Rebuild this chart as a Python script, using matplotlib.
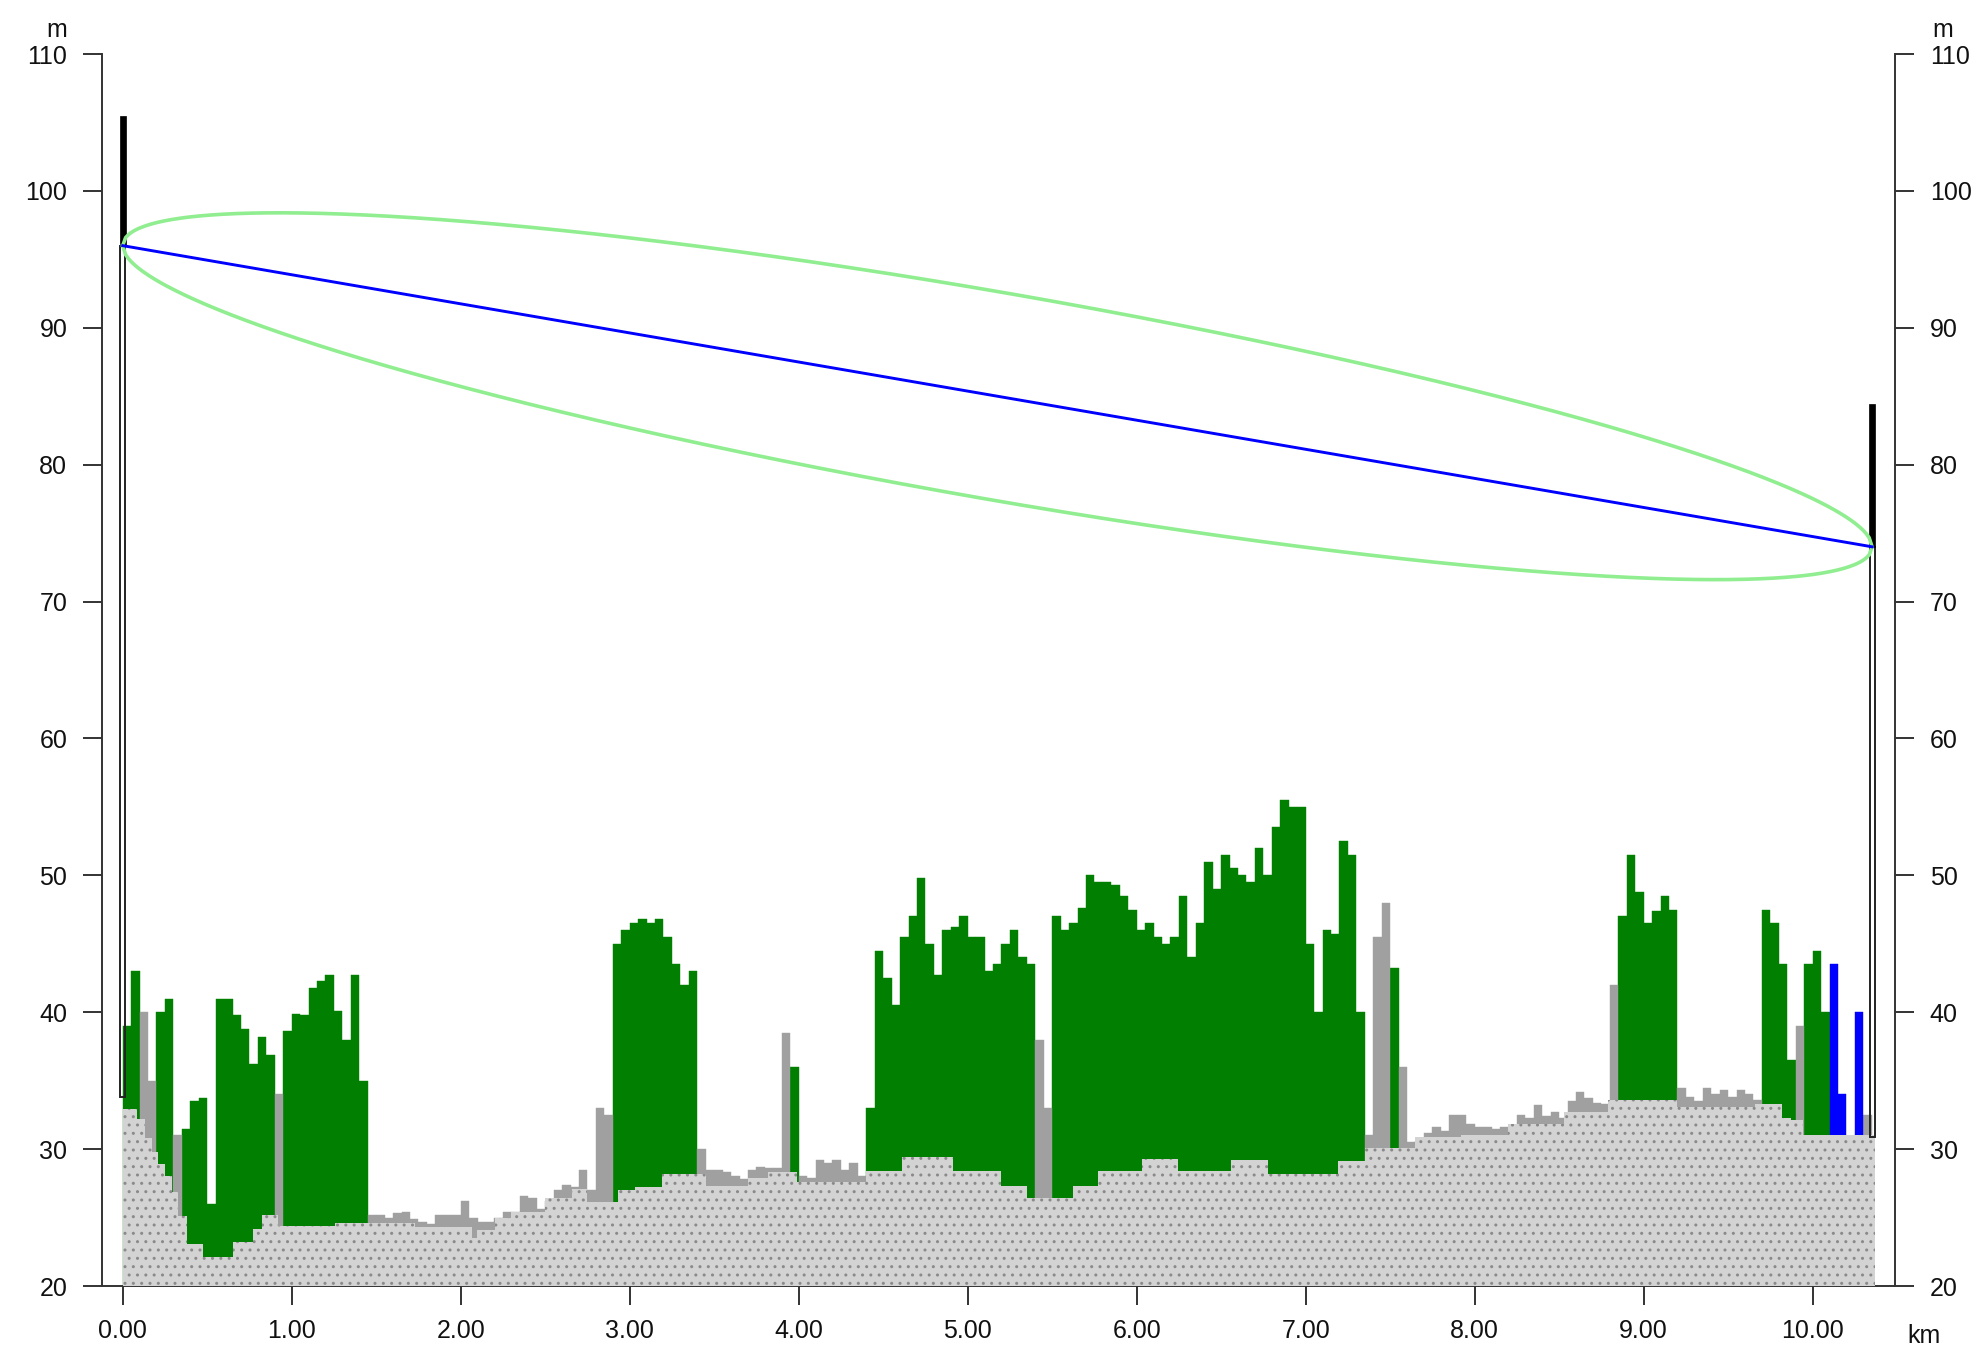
import numpy as np
import matplotlib
matplotlib.use("Agg")
import matplotlib.pyplot as plt
from matplotlib.patches import Rectangle

plt.rcParams["font.family"] = ["Liberation Sans", "DejaVu Sans"]

# terrain: start of each step (km) and its height (m)
ground_km = [0.000, 0.083, 0.132, 0.171, 0.211, 0.250, 0.290, 0.329, 0.378, 0.477,
             0.655, 0.773, 0.822, 0.921, 1.256, 1.730, 2.065, 2.095, 2.203, 2.300,
             2.500, 2.657, 2.745, 2.930, 3.030, 3.190, 3.450, 3.700, 3.820, 3.990,
             4.400, 4.610, 4.915, 5.200, 5.350, 5.625, 5.770, 6.030, 6.245, 6.560,
             6.780, 7.190, 7.350, 7.650, 7.920, 8.200, 8.530, 8.790, 9.195, 9.660,
             9.820, 9.875, 9.945]
ground_m = [32.9, 32.2, 30.8, 29.8, 28.9, 28.0, 26.9, 25.1, 23.1, 22.1,
            23.2, 24.2, 25.2, 24.4, 24.6, 24.3, 23.5, 24.1, 25.0, 25.4,
            26.4, 27.1, 26.1, 27.0, 27.2, 28.2, 27.3, 27.9, 28.3, 27.6,
            28.4, 29.4, 28.4, 27.3, 26.4, 27.3, 28.4, 29.3, 28.4, 29.2,
            28.2, 29.1, 30.1, 30.9, 31.0, 31.8, 32.7, 33.6, 33.1, 33.3,
            32.3, 32.1, 31.0]
ground_end_km = 10.37

# clutter tops (m) every 0.05 km from 0.00 to 10.35
clutter_step = 0.05
clutter_top = [
    39, 43, 40, 35, 40, 41, 31, 31.5, 33.5, 33.7,
    26, 41, 41, 39.8, 38.8, 36.2, 38.2, 36.9, 34, 38.6,
    39.9, 39.8, 41.8, 42.3, 42.7, 40.1, 38, 42.7, 35, 25.2,
    25.2, 25.0, 25.3, 25.4, 24.9, 24.7, 24.5, 25.2, 25.2, 25.2,
    26.2, 25.0, 24.7, 24.7, 25.0, 25.4, 25.4, 26.6, 26.4, 25.6,
    26.2, 27.0, 27.4, 27.2, 28.5, 27.0, 33, 32.5, 45, 46,
    46.5, 46.8, 46.5, 46.8, 45.5, 43.5, 42, 43, 30, 28.5,
    28.5, 28.3, 28.0, 27.8, 28.5, 28.7, 28.6, 28.6, 38.5, 36,
    28.0, 27.9, 29.2, 29.0, 29.2, 28.5, 29.0, 28.0, 33, 44.5,
    42.5, 40.5, 45.5, 47, 49.8, 45, 42.7, 46, 46.2, 47,
    45.5, 45.5, 43, 43.5, 45, 46, 44, 43.5, 38, 33,
    47, 46, 46.5, 47.6, 50, 49.5, 49.5, 49.3, 48.5, 47.5,
    46, 46.5, 45.5, 45, 45.5, 48.5, 44, 46.5, 51, 49,
    51.5, 50.5, 50, 49.5, 52, 50, 53.5, 55.5, 55, 55,
    45, 40, 46, 45.7, 52.5, 51.5, 40, 31, 45.5, 48,
    43.2, 36, 30.5, 30.6, 31.2, 31.6, 31.3, 32.5, 32.5, 31.8,
    31.6, 31.6, 31.5, 31.6, 31.5, 32.5, 32.3, 33.2, 32.4, 32.7,
    32.3, 33.5, 34.2, 33.7, 33.4, 33.3, 42, 47, 51.5, 48.8,
    46.5, 47.4, 48.5, 47.5, 34.5, 33.8, 33.5, 34.5, 34.0, 34.3,
    33.8, 34.3, 34.0, 33.6, 47.5, 46.5, 43.5, 36.5, 39, 43.5,
    44.5, 40, 43.5, 34, 0, 40, 32.5, 0,
]
# F = forest, G = other obstacles, B = blue class, - = none
clutter_cls = ("FFGGFFGFFF" "FFFFFFFFGF" "FFFFFFFFFG" "GGGGGGGGGG" "GGGGGGGGGG"
               "GGGGGGGGFF" "FFFFFFFFGG" "GGGGGGGGGF" "GGGGGGGGFF" "FFFFFFFFFF"
               "FFFFFFFFGG" "FFFFFFFFFF" "FFFFFFFFFF" "FFFFFFFFFF" "FFFFFFFGGG"
               "FGGGGGGGGG" "GGGGGGGGGG" "GGGGGGGFFF" "FFFFGGGGGG" "GGGGFFFFGF"
               "FFBB-BG-")
cls_colors = {"F": "#007f00", "G": "#a0a0a0", "B": "#0000ff"}

# sites: position (km), mast foot, antenna bottom, antenna top (m)
site_km = [0.0, 10.352]
mast_foot = [33.8, 30.9]
ant_low = [96.0, 74.0]
ant_high = [105.5, 84.4]
fresnel_max = 7.65  # m at mid path

fig = plt.figure(figsize=(19.82, 13.5), dpi=100)
ax = fig.add_axes([102 / 1982, 1 - 1286 / 1350, (1895 - 102) / 1982, (1286 - 54) / 1350])

km = np.arange(len(clutter_top)) * clutter_step
top = np.array(clutter_top, dtype=float)
cls = np.array(list(clutter_cls))
for code, col in cls_colors.items():
    m = cls == code
    ax.bar(km[m], top[m] - 20, bottom=20, width=clutter_step, align="edge",
           color=col, edgecolor=col, linewidth=0.3, zorder=2)

gx = ground_km + [ground_end_km]
gy = ground_m + [ground_m[-1]]
ax.fill_between(gx, gy, 20, step="post", facecolor="#d3d3d3", edgecolor="#8a8a8a",
                hatch="..", linewidth=0, zorder=3)

# masts and antennas
for x, foot, lo, hi in zip(site_km, mast_foot, ant_low, ant_high):
    ax.add_patch(Rectangle((x - 0.015, foot), 0.03, lo - foot, fill=False,
                           edgecolor="#222222", linewidth=1.4, zorder=4))
    ax.add_patch(Rectangle((x - 0.017, lo), 0.034, hi - lo, facecolor="black",
                           edgecolor="black", linewidth=0.5, zorder=4))

# line of sight and fresnel zone
t = np.linspace(0, 1, 600)
fx = site_km[0] + t * (site_km[1] - site_km[0])
los = ant_low[0] + t * (ant_low[1] - ant_low[0])
r = 2 * fresnel_max * np.sqrt(t * (1 - t))
ax.plot(np.concatenate([fx, fx[::-1]]), np.concatenate([los + r, (los - r)[::-1]]),
        color="#90ee90", linewidth=2.6, zorder=5)
ax.plot([site_km[0], site_km[1]], [ant_low[0], ant_low[1]], color="#0000ff",
        linewidth=2.1, zorder=6)

ax.set_xlim(-0.1225, 10.4875)
ax.set_ylim(20, 110)
ax.set_xticks(np.arange(0, 11))
ax.set_xticklabels([f"{v:.2f}" for v in range(0, 11)])
ax.set_yticks(np.arange(20, 111, 10))
ax.tick_params(axis="y", left=True, right=True, labelleft=True, labelright=True,
               length=14, width=1.4, pad=11, labelsize=18, color="#333333",
               labelcolor="#111111")
ax.tick_params(axis="x", length=14, width=1.4, pad=10, labelsize=18,
               color="#333333", labelcolor="#111111")
ax.spines["top"].set_visible(False)
for s in ("left", "right", "bottom"):
    ax.spines[s].set_linewidth(1.4)
    ax.spines[s].set_color("#333333")

fig.text(67 / 1982, 1 - 37 / 1350, "m", ha="right", va="baseline", fontsize=18, color="#111111")
fig.text(1932 / 1982, 1 - 37 / 1350, "m", ha="left", va="baseline", fontsize=18, color="#111111")
fig.text(1907 / 1982, 1 - 1343 / 1350, "km", ha="left", va="baseline", fontsize=18, color="#111111")

fig.savefig("out.png", dpi=100)
